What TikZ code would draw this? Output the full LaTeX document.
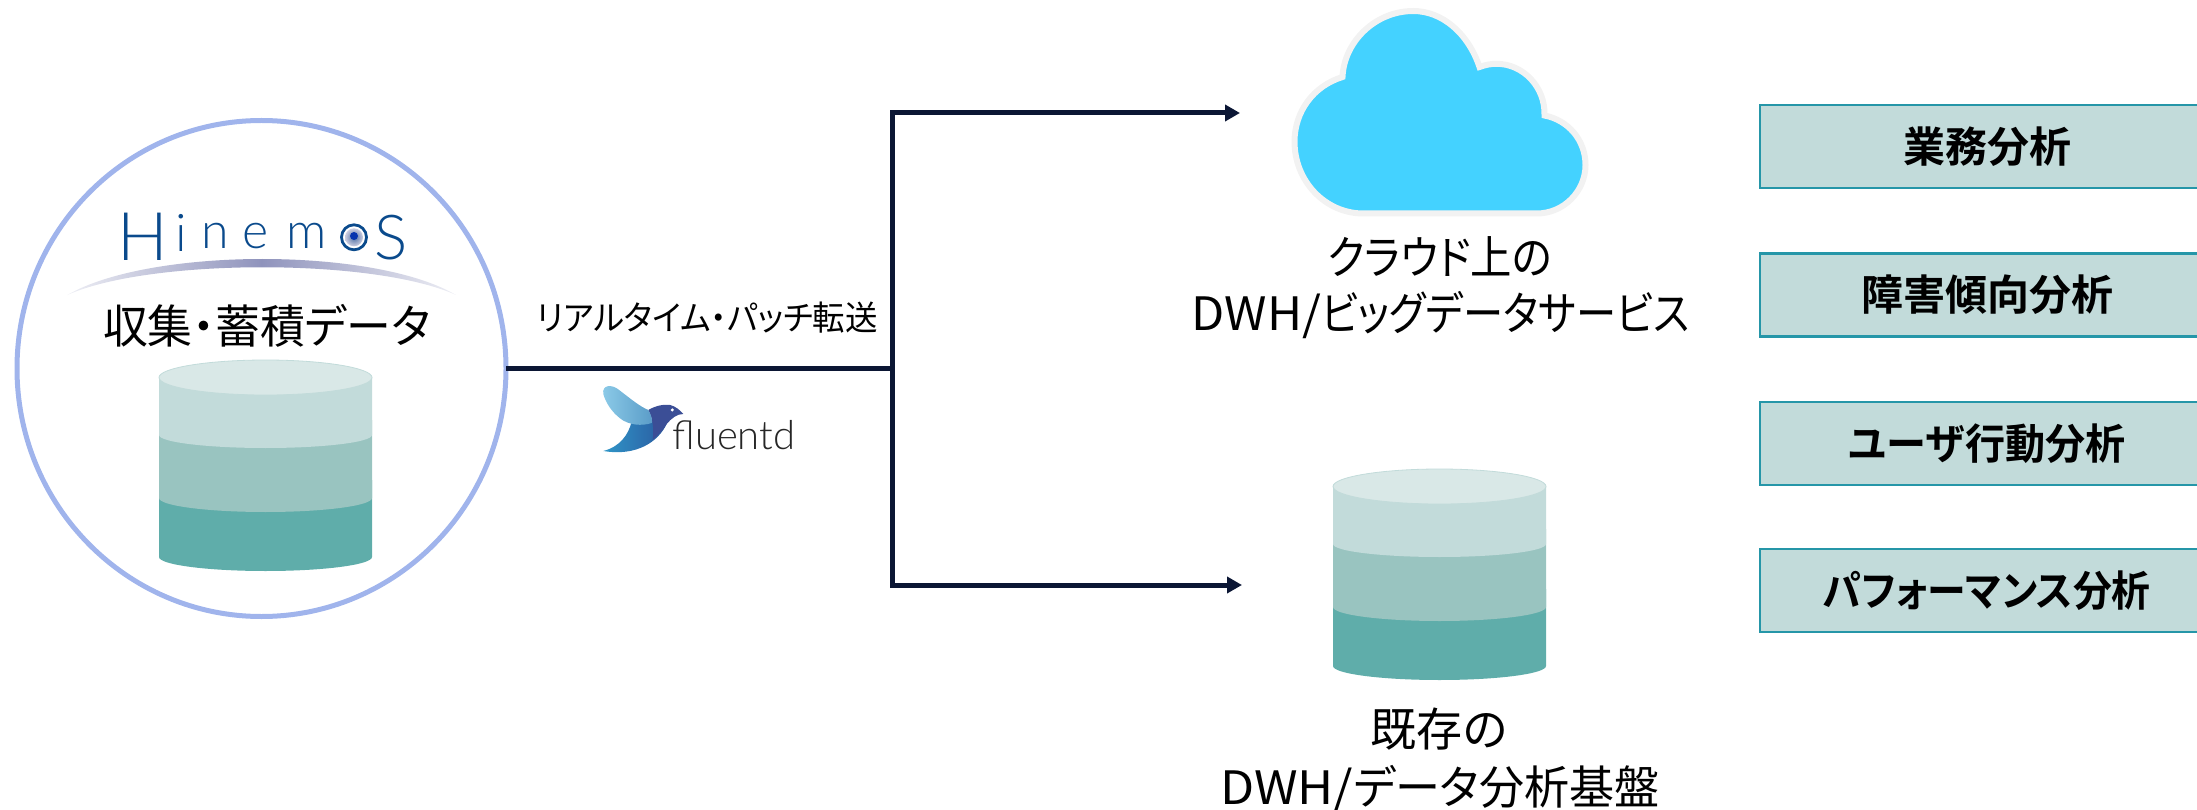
\documentclass[tikz,border=0pt]{standalone}
\usepackage{fontspec}
\usepackage{graphicx}
\usetikzlibrary{arrows.meta,calc,shapes.geometric}
\newfontfamily\jp{Noto Sans CJK JP}[RawFeature=+palt]
\newfontfamily\jpbold{Noto Sans CJK JP Bold}[RawFeature=+palt]
\newfontfamily\logofont{Lato Light}
\definecolor{linec}{HTML}{0B1634}
\definecolor{ringc}{HTML}{A0B4EC}
\definecolor{cyla}{HTML}{D9E8E7}
\definecolor{cylb}{HTML}{C2DBDA}
\definecolor{cylc}{HTML}{99C4C0}
\definecolor{cyld}{HTML}{5FADAA}
\definecolor{boxedge}{HTML}{2596A8}
\definecolor{cloudc}{HTML}{44D2FF}
\definecolor{cloude}{HTML}{F2F2F2}
\definecolor{logoc}{HTML}{0A4A8C}
\definecolor{swoosh}{HTML}{8F93BC}
\definecolor{wingl}{HTML}{8CCBE8}
\definecolor{wingr}{HTML}{5A9CC8}
\definecolor{bodyl}{HTML}{3096C8}
\definecolor{bodyr}{HTML}{2A5AA0}
\definecolor{headc}{HTML}{3B4E96}
\tikzset{
  conn/.style={draw=linec,line width=5pt},
  arrowconn/.style={conn,-{Triangle[length=15pt,width=16pt]}},
  anabox/.style={draw=boxedge,fill=cylb,line width=2.5pt,minimum width=454pt,minimum height=83pt,inner sep=0pt,font=\jpbold\fontsize{42}{42}\selectfont},
  lab/.style={inner sep=0pt,align=center,font=\jp\fontsize{46}{58}\selectfont},
  logolet/.style={inner sep=0pt,anchor=base,text=logoc}
}
\newcommand{\sx}[2]{\scalebox{#1}[1]{#2}}
\newcommand{\cylband}[4]{%
  \pgfmathsetmacro{\cylk}{#2+0.55*(#3-#2)}%
  \fill[#4] (159,#1) -- (159,#2) .. controls (159,\cylk) and (207,#3) .. (265.5,#3)
     .. controls (324,#3) and (372,\cylk) .. (372,#2) -- (372,#1) -- cycle;}
\newcommand{\cylstack}{%
  \cylband{480}{557}{571}{cyld}%
  \cylband{420}{498}{512}{cylc}%
  \cylband{377}{435}{448}{cylb}%
  \fill[cyla,draw=cylb,line width=0.8pt] (159,377.5) .. controls (159,368) and (207,360) .. (265.5,360)
     .. controls (324,360) and (372,368) .. (372,377.5)
     .. controls (372,387) and (324,395) .. (265.5,395)
     .. controls (207,395) and (159,387) .. (159,377.5) -- cycle;}
\begin{document}
\begin{tikzpicture}[x=1pt,y=-1pt]
\useasboundingbox (0,0) rectangle (2197,810);
\clip (0,0) rectangle (2197,810);
% hub circle
\node[ellipse,draw=ringc,line width=5pt,minimum width=489pt,minimum height=496pt,inner sep=0pt,outer sep=0pt] (hub) at (261.5,368.5) {};
% logo
\node[logolet,font=\logofont\fontsize{67}{67}\selectfont] (logoH) at (143,261) {H};
\node[logolet,font=\logofont\fontsize{52}{52}\selectfont] (logoI) at (181.7,252) {i};
\node[logolet,font=\logofont\fontsize{50}{50}\selectfont] (logoN) at (215.5,249) {n};
\node[logolet,font=\logofont\fontsize{50}{50}\selectfont] (logoE) at (255.5,249) {e};
\node[logolet,font=\logofont\fontsize{50}{50}\selectfont] (logoM) at (307,249) {m};
\node[logolet,font=\logofont\fontsize{62}{62}\selectfont] (logoS) at (391.5,260) {S};
\shade[inner color=logoc!50!swoosh,outer color=swoosh!45] (354,237.3) circle[radius=9];
\draw[logoc,line width=2.8pt] (354,237.3) circle[radius=12.5];
\fill[logoc!70!blue] (354,236) circle[radius=4];
\shade[left color=swoosh!15,right color=swoosh!15,middle color=swoosh] (67.3,295)
  .. controls (150,247) and (375,247) .. (456,295)
  .. controls (375,258) and (150,258) .. (67.3,295) -- cycle;
\node[lab] (collect) at (266.7,326) {\sx{0.975}{収集・蓄積データ}};
\cylstack
% transfer label
\node[lab,font=\jp\fontsize{34}{34}\selectfont] (transfer) at (707.5,318) {\sx{0.955}{リアルタイム・パッチ転送}};
% fluentd bird
\begin{scope}[shift={(500,270)},scale=0.3333]
  \shade[left color=bodyl,right color=bodyr]
    (310,543) .. controls (360,530) and (385,495) .. (395,455)
    .. controls (420,462) and (450,455) .. (480,450) -- (500,462)
    .. controls (475,515) and (410,560) .. (310,543) -- cycle;
  \fill[headc] (445,420) .. controls (465,408) and (490,402) .. (510,405)
    .. controls (525,408) and (540,420) .. (550,432) .. controls (530,432) and (515,445) .. (500,462)
    .. controls (490,480) and (475,495) .. (458,510) .. controls (462,480) and (460,450) .. (445,420) -- cycle;
  \shade[left color=wingl,right color=wingr]
    (310,372) .. controls (305,345) and (335,340) .. (360,362)
    .. controls (390,385) and (420,410) .. (445,420)
    .. controls (452,432) and (456,445) .. (458,458)
    .. controls (425,470) and (385,465) .. (360,445)
    .. controls (335,425) and (318,400) .. (310,372) -- cycle;
  \fill[white] (517,420) circle[radius=5];
\end{scope}
\node[inner sep=0pt,anchor=base,text=black!85,font=\logofont\fontsize{40}{40}\selectfont] (fluentd) at (734,449) {fluentd};
% cloud
\draw[draw=cloude,fill=cloudc,line width=6pt] (1363.3,213.5) -- (1536.7,213.5)
  .. controls (1564,213.5) and (1585.5,191) .. (1585.5,165)
  .. controls (1585.5,140) and (1568,120) .. (1544.5,115.5)
  .. controls (1545.5,87) and (1523,63.8) .. (1496.7,63.8)
  .. controls (1490,63.8) and (1485,65) .. (1479.5,67)
  .. controls (1468,33) and (1442,11) .. (1413.3,11)
  .. controls (1375,11) and (1344,42) .. (1342.5,77)
  .. controls (1313,86) and (1294.5,112) .. (1294.5,141.7)
  .. controls (1294.5,181) and (1325,213.5) .. (1363.3,213.5) -- cycle;
\node[coordinate] (cloudin) at (1240,113) {};
\node[lab] (cloudlab1) at (1440,257) {\sx{0.9}{クラウド上の}};
\node[lab] (cloudlab2) at (1440.5,315) {\sx{1.05}{DWH/}\sx{0.875}{ビッグデータサービス}};
% second cylinder
\begin{scope}[shift={(1174,109)}]
  \cylstack
\end{scope}
\node[coordinate] (dbin) at (1242,585) {};
\node[lab] (dblab1) at (1439,729) {既存の};
\node[lab] (dblab2) at (1440,789) {\sx{1.08}{DWH/}\sx{0.98}{データ分析基盤}};
% connectors
\node[coordinate] (junction) at (892,368.7) {};
\node[coordinate] (top) at (892,113) {};
\node[coordinate] (bot) at (892,585) {};
\draw[conn] (hub.east |- junction) -- (junction);
\draw[conn,line cap=rect] (top) -- (bot);
\draw[arrowconn] (top) -- (cloudin);
\draw[arrowconn] (bot) -- (dbin);
% boxes
\node[anabox] (b1) at (1987,146.4) {業務分析};
\node[anabox] (b2) at (1987,295) {障害傾向分析};
\node[anabox] (b3) at (1987,443.5) {\sx{0.955}{ユーザ行動分析}};
\node[anabox] (b4) at (1987,590.5) {\sx{0.925}{パフォーマンス分析}};
\end{tikzpicture}
\end{document}
